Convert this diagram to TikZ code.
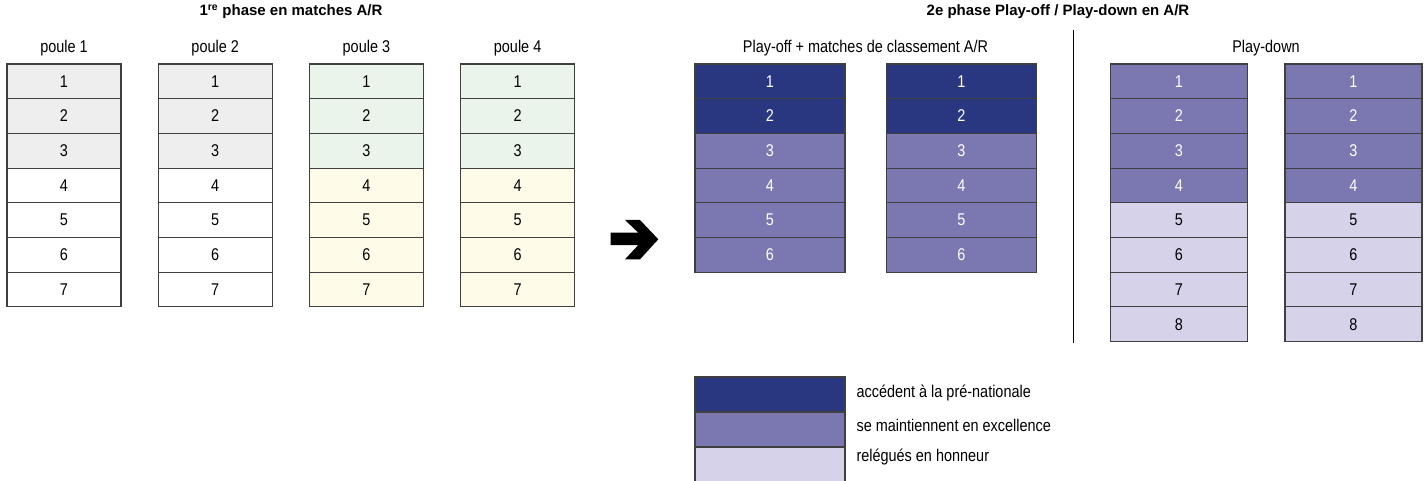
\documentclass[tikz,border=0pt]{standalone}
\usepackage{fontspec}
\setmainfont{Liberation Sans}[FakeStretch=0.85]
\newfontfamily\headfont{Liberation Sans}
\usepackage{tikz}
\usetikzlibrary{positioning}

\definecolor{cellgray}{RGB}{238,238,238}
\definecolor{cellgreen}{RGB}{234,244,234}
\definecolor{cellyellow}{RGB}{254,252,233}
\definecolor{topblue}{RGB}{41,55,128}
\definecolor{midblue}{RGB}{123,120,177}
\definecolor{lowblue}{RGB}{213,210,233}

\begin{document}
\begin{tikzpicture}[
			x=1pt, y=-1pt,
			cell/.style={rectangle, draw=black!75, line width=1.1pt, inner sep=0pt, outer sep=0pt, minimum height=34.7pt, font=\fontsize{17}{20}\selectfont},
			poulecell/.style={cell, minimum width=114pt},
			offcell/.style={cell, minimum width=150pt},
			downcell/.style={cell, minimum width=137pt},
			headtitle/.style={font=\headfont\bfseries\fontsize{15}{18}\selectfont},
			grouplabel/.style={font=\fontsize{17}{20}\selectfont},
			legtext/.style={anchor=west, font=\fontsize{17}{20}\selectfont}
		]
		\useasboundingbox (0,0) rectangle (1424,481);
		
		% Titles
		\node[headtitle] (phase1) at (291,12) {1\textsuperscript{re} phase en matches A/R};
		\node[headtitle] (phase2) at (1058,12) {2e phase Play-off / Play-down en A/R};
		
		% 1st phase - poules
		\foreach \c/\upper/\lower in {1/cellgray/white, 2/cellgray/white, 3/cellgreen/cellyellow, 4/cellgreen/cellyellow} {
			\node[grouplabel] (poule\c) at ({64+151.2*(\c-1)},48) {poule \c};
			\foreach \r in {1,2,3}
				\node[poulecell, fill=\upper] (p\c-\r) at ({64+151.2*(\c-1)},{81.35+34.7*(\r-1)}) {\r};
			\foreach \r in {4,...,7}
				\node[poulecell, fill=\lower] (p\c-\r) at ({64+151.2*(\c-1)},{81.35+34.7*(\r-1)}) {\r};
		}
		
		% Arrow between phases
		\fill (610.7,232.7) -- (638.3,232.7) -- (625,220) -- (640,220) -- (658.3,239.3)
			-- (640,259.3) -- (625,259.3) -- (638.3,245) -- (610.7,245) -- cycle;
		
		% 2nd phase - play-off
		\node[grouplabel] (playoff) at (865.5,48) {Play-off + matches de classement A/R};
		\foreach \c/\x in {1/770, 2/961.5} {
			\foreach \r in {1,2}
				\node[offcell, fill=topblue, text=white] (po\c-\r) at (\x,{81.35+34.7*(\r-1)}) {\r};
			\foreach \r in {3,...,6}
				\node[offcell, fill=midblue, text=white] (po\c-\r) at (\x,{81.35+34.7*(\r-1)}) {\r};
		}
		
		% Separator
		\coordinate (septop) at (1073,30);
		\coordinate (sepbot) at (1073,343);
		\draw[line width=1pt] (septop) -- (sepbot);
		
		% 2nd phase - play-down
		\node[grouplabel] (playdown) at (1266,48) {Play-down};
		\foreach \c/\x in {1/1179, 2/1353.5} {
			\foreach \r in {1,...,4}
				\node[downcell, fill=midblue, text=white] (pd\c-\r) at (\x,{81.35+34.7*(\r-1)}) {\r};
			\foreach \r in {5,...,8}
				\node[downcell, fill=lowblue] (pd\c-\r) at (\x,{81.35+34.7*(\r-1)}) {\r};
		}
		
		% Legend
		\node[offcell, minimum height=35pt, fill=topblue] (leg1) at (770,394.5) {};
		\node[offcell, minimum height=35pt, fill=midblue, below=0pt of leg1] (leg2) {};
		\node[offcell, minimum height=35pt, fill=lowblue, below=0pt of leg2] (leg3) {};
		\node[legtext] (legtext1) at (853,393) {accédent à la pré-nationale};
		\node[legtext] (legtext2) at (853,425) {se maintiennent en excellence};
		\node[legtext] (legtext3) at (853,457) {relégués en honneur};
		
		\end{tikzpicture}
\end{document}
